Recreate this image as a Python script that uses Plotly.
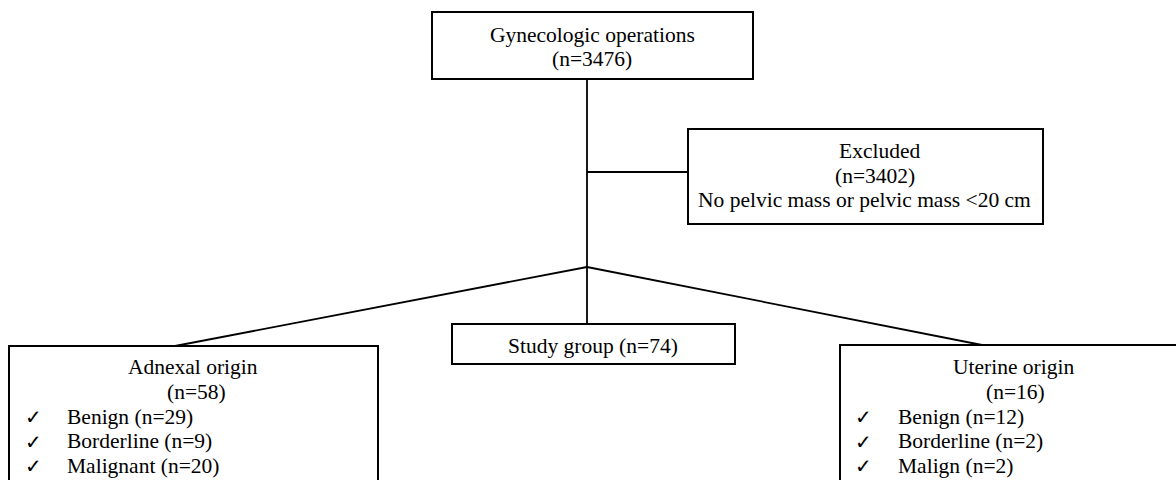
import plotly.graph_objects as go

# ---- data ----
total_ops = 3476
excluded_n = 3402
excluded_reason = "No pelvic mass or pelvic mass <20 cm"
study_n = 74
adnexal_n = 58
uterine_n = 16
adnexal_labels = ["Benign", "Borderline", "Malignant"]
adnexal_counts = [29, 9, 20]
uterine_labels = ["Benign", "Borderline", "Malign"]
uterine_counts = [12, 2, 2]

W, H = 1176, 480
FONT = "Liberation Serif, Times New Roman, serif"
FS = 21.5
LH = 24.6

fig = go.Figure()
shapes = []
ann = []

def box(x0, y0, x1, y1):
    shapes.append(dict(type="rect", x0=x0, y0=y0, x1=x1, y1=y1,
                       line=dict(color="black", width=2), fillcolor="rgba(0,0,0,0)"))

def line(x0, y0, x1, y1):
    shapes.append(dict(type="line", x0=x0, y0=y0, x1=x1, y1=y1,
                       line=dict(color="black", width=1.8)))

def text(x, baseline, s, anchor="center", size=FS, font=FONT):
    ann.append(dict(x=x, y=baseline - 0.30 * size, text=s, showarrow=False,
                    xanchor=anchor, yanchor="middle",
                    font=dict(family=font, size=size, color="black")))

# boxes
box(432, 12, 753, 79)
box(688, 129, 1043, 224)
box(452, 324, 735, 364)
box(9, 346, 378, 495)
box(840, 345, 1195, 495)

# connectors
line(587, 79, 587, 324)
line(587, 172, 688, 172)
line(587, 267, 175, 346)
line(587, 267, 982, 345)

# texts
text(592, 41, "Gynecologic operations")
text(592, 65, f"(n={total_ops})")
text(879, 157, "Excluded")
text(875, 182, f"(n={excluded_n})")
text(864, 206, excluded_reason)
text(593, 352, f"Study group (n={study_n})")

text(193, 373, "Adnexal origin")
text(196, 398, f"(n={adnexal_n})")
for i, (lab, c) in enumerate(zip(adnexal_labels, adnexal_counts)):
    b = 423 + i * LH
    text(33, b, "✓", size=20, font="DejaVu Sans")
    text(65, b, f"{lab} (n={c})", anchor="left")

text(1013, 373, "Uterine origin")
text(1015, 398, f"(n={uterine_n})")
for i, (lab, c) in enumerate(zip(uterine_labels, uterine_counts)):
    b = 423 + i * LH
    text(863, b, "✓", size=20, font="DejaVu Sans")
    text(896, b, f"{lab} (n={c})", anchor="left")

fig.update_layout(
    width=W, height=H,
    margin=dict(l=0, r=0, t=0, b=0),
    paper_bgcolor="white", plot_bgcolor="white",
    xaxis=dict(range=[0, W], visible=False, fixedrange=True),
    yaxis=dict(range=[H, 0], visible=False, fixedrange=True),
    shapes=shapes, annotations=ann, showlegend=False,
)
fig.write_html("out.html", config={"displayModeBar": False},
               post_script="document.body.style.margin='0';document.body.style.overflow='hidden';")
